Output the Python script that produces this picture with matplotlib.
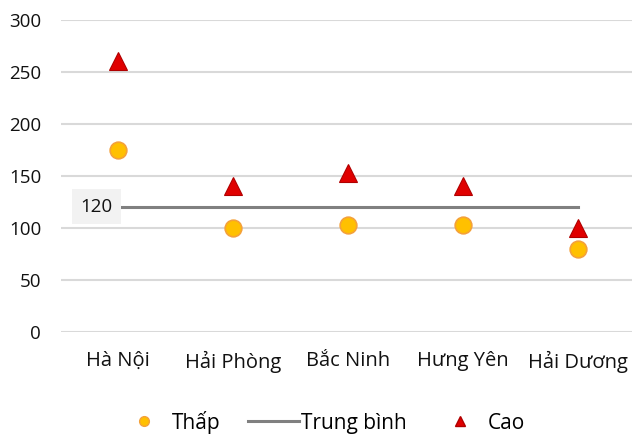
import matplotlib.pyplot as plt
from matplotlib.lines import Line2D

plt.rcParams['font.family'] = ['Open Sans', 'DejaVu Sans']

provinces = ["Hà Nội", "Hải Phòng", "Bắc Ninh", "Hưng Yên", "Hải Dương"]
low = [175, 100, 103, 103, 80]
high = [260, 140, 153, 140, 100]
average = [120, 120, 120, 120, 120]

fig = plt.figure(figsize=(6.32, 4.36), dpi=100)
ax = fig.add_axes([0.096, 0.239, 0.91, 0.716])

x = list(range(len(provinces)))

ax.plot(x, average, color="#808080", lw=2.2, zorder=2)
ax.plot(x, low, ls="none", marker="o", ms=12, mfc="#FFC000", mec="#F4A13A",
        mew=1.2, zorder=3)
ax.plot(x, high, ls="none", marker="^", ms=12.5, mfc="#E00000", mec="#B00000",
        mew=0.8, zorder=3)

# value label for the average line
ax.text(-0.19, average[0], str(average[0]), ha="center", va="center", fontsize=13.5,
        color="#111111",
        bbox=dict(boxstyle="square,pad=0.45", fc="#F2F2F2", ec="none"))

ax.set_xlim(-0.5, 4.5)
ax.set_ylim(0, 300)
ax.set_yticks(range(0, 301, 50))
ax.set_xticks(x)
ax.set_xticklabels(provinces, fontsize=14.5)
ax.yaxis.grid(True, color="#D9D9D9", lw=1.5)
ax.set_axisbelow(True)
for s in ax.spines.values():
    s.set_visible(False)
ax.tick_params(length=0, colors="#111111")
ax.tick_params(axis="y", labelsize=13.5, pad=14)
ax.tick_params(axis="x", pad=14)

handles = [
    Line2D([], [], ls="none", marker="o", ms=7, mfc="#FFC000", mec="#F4A13A"),
    Line2D([], [], color="#808080", lw=2.2),
    Line2D([], [], ls="none", marker="^", ms=7, mfc="#E00000", mec="#B00000"),
]
fig.legend(handles, ["Thấp", "Trung bình", "Cao"], loc="center",
           bbox_to_anchor=(0.509, 0.032), ncol=3, frameon=False, fontsize=15,
           handlelength=2.45, columnspacing=1.3, handletextpad=0.12)

fig.savefig("out.png", dpi=100, facecolor="white")
